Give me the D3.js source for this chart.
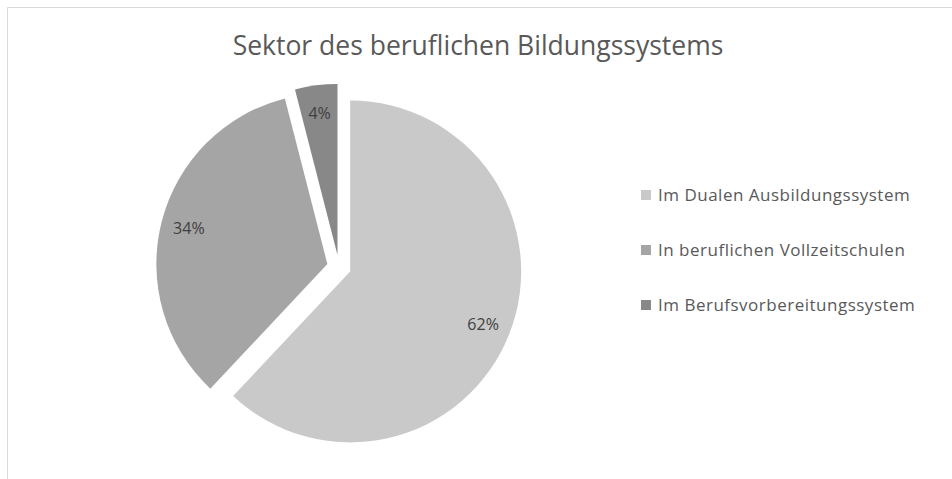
<!DOCTYPE html>
<html>
<head>
<meta charset="utf-8">
<script src="https://cdn.jsdelivr.net/npm/d3@7"></script>
<style>
  body { margin: 0; background: #fff; }
  svg { display: block; }
</style>
</head>
<body>
<div id="chart"></div>
<script>
const categories = ['Im Dualen Ausbildungssystem', 'In beruflichen Vollzeitschulen', 'Im Berufsvorbereitungssystem']
const values = [62, 34, 4]
const labels = ['62%', '34%', '4%']
const colors = ['#c9c9c9', '#a5a5a5', '#888888']

const width = 952
const height = 479
const radius = 171
const explode = 12
const cx = 339
const cy = 267

const svg = d3.select('#chart').append('svg')
  .attr('width', width)
  .attr('height', height)

// chart frame
svg.append('path')
  .attr('d', `M7.5,${height} V7.5 H${width}`)
  .attr('fill', 'none')
  .attr('stroke', '#d9d9d9')
  .attr('stroke-width', 1)

svg.append('text')
  .attr('x', 478)
  .attr('y', 55)
  .attr('text-anchor', 'middle')
  .style('font-family', '"Open Sans", sans-serif')
  .style('font-size', '26.5px')
  .style('fill', '#595959')
  .text('Sektor des beruflichen Bildungssystems')

const pie = d3.pie().sort(null).value(d => d)
const arcs = pie(values)
const arc = d3.arc().innerRadius(0).outerRadius(radius)
const labelArc = d3.arc().innerRadius(143).outerRadius(143)

const g = svg.append('g').attr('transform', `translate(${cx},${cy})`)

const slice = g.selectAll('.slice')
  .data(arcs)
  .enter().append('g')
  .attr('class', 'slice')
  .attr('transform', d => {
    const mid = (d.startAngle + d.endAngle) / 2
    return `translate(${explode * Math.sin(mid)},${-explode * Math.cos(mid)})`
  })

slice.append('path')
  .attr('d', arc)
  .style('fill', (d, i) => colors[i])

slice.append('text')
  .attr('transform', d => `translate(${labelArc.centroid(d)})`)
  .attr('text-anchor', 'middle')
  .attr('dy', '0.35em')
  .style('font-family', '"Open Sans", sans-serif')
  .style('font-size', '16px')
  .style('fill', '#404040')
  .text((d, i) => labels[i])

const y = d3.scalePoint().domain(categories).range([195, 305])

const legend = svg.selectAll('.legend')
  .data(categories)
  .enter().append('g')
  .attr('class', 'legend')
  .attr('transform', d => `translate(641,${y(d)})`)

legend.append('rect')
  .attr('x', 0)
  .attr('y', -5)
  .attr('width', 10)
  .attr('height', 10)
  .style('fill', (d, i) => colors[i])

legend.append('text')
  .attr('x', 17)
  .attr('dy', '0.35em')
  .style('font-family', '"Open Sans", sans-serif')
  .style('font-size', '17px')
  .style('letter-spacing', '0.5px')
  .style('fill', '#595959')
  .text(d => d)
</script>
</body>
</html>
